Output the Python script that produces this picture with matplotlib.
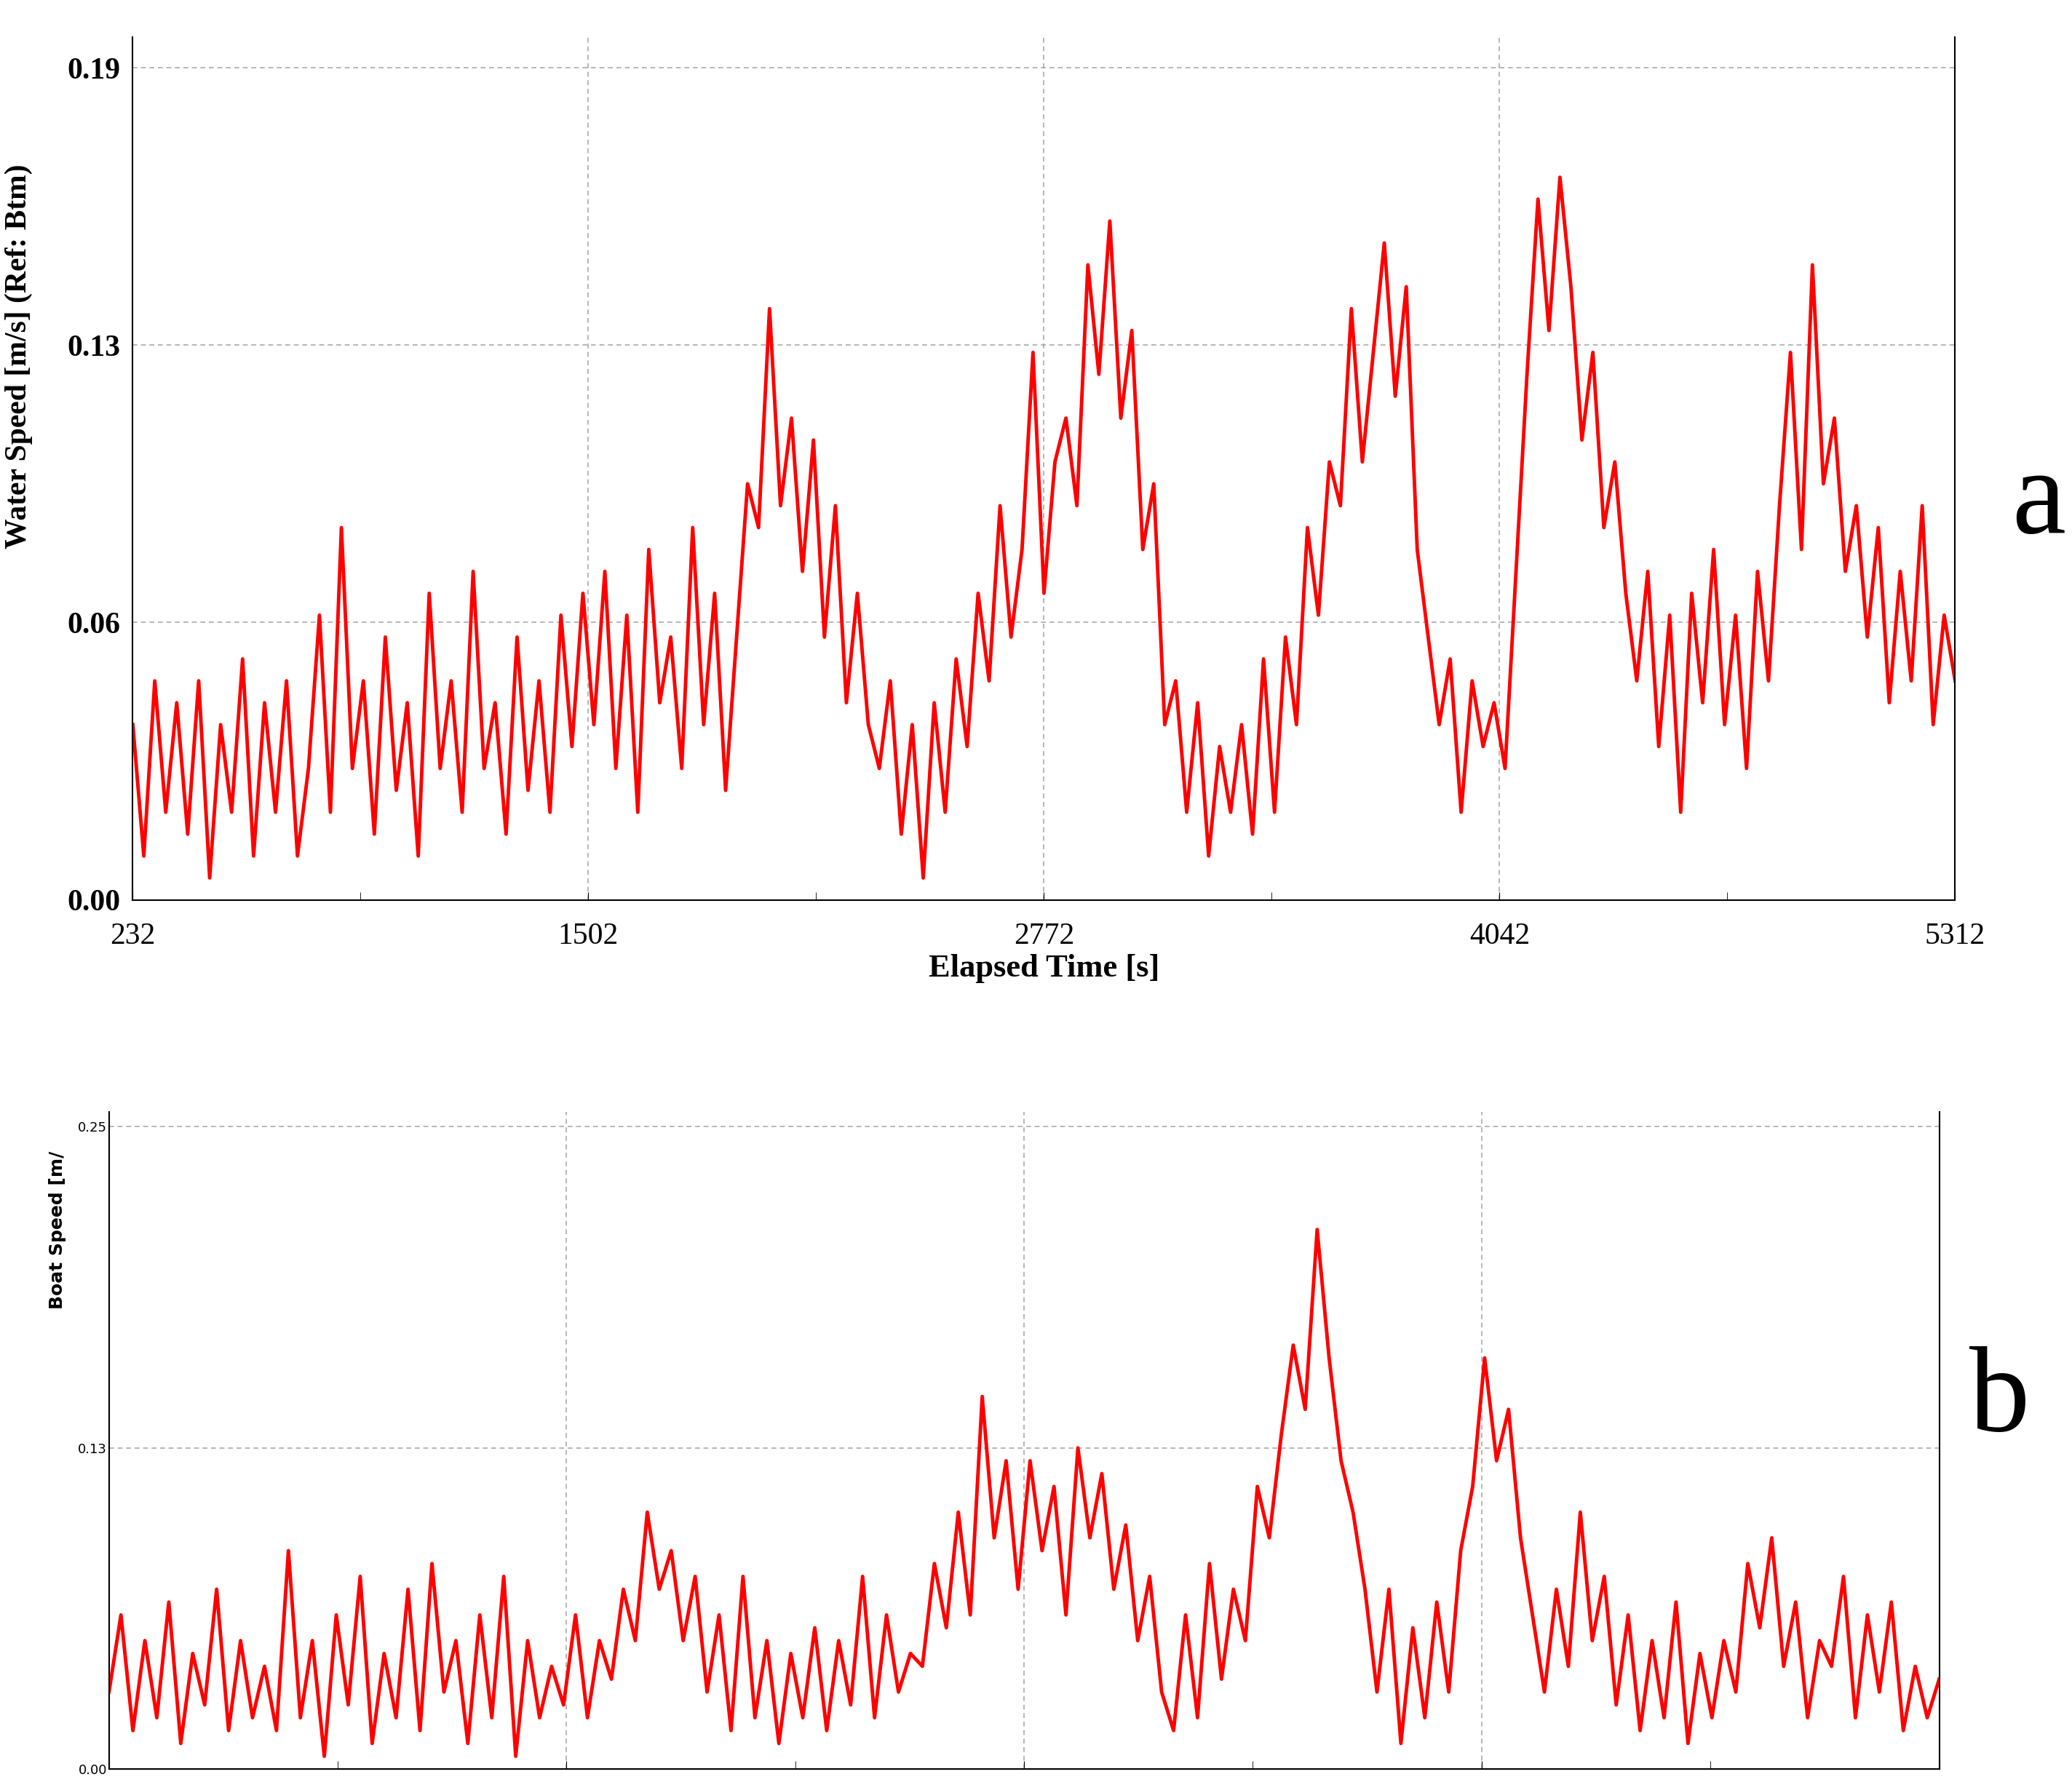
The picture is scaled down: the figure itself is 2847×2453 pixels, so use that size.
import numpy as np
import matplotlib.pyplot as plt

# top panel: water speed (m/s)
water = [0.04,0.01,0.05,0.02,0.045,0.015,0.05,0.005,0.04,0.02,0.055,0.01,0.045,0.02,0.05,0.01,
         0.03,0.065,0.02,0.085,0.03,0.05,0.015,0.06,0.025,0.045,0.01,0.07,0.03,
         0.05,0.02,0.075,0.03,0.045,0.015,0.06,0.025,0.05,0.02,0.065,0.035,0.07,
         0.04,0.075,0.03,0.065,0.02,0.08,0.045,0.06,0.03,0.085,0.04,0.07,0.025,
         0.06,0.095,0.085,0.135,0.09,0.11,0.075,0.105,0.06,0.09,0.045,0.07,0.04,
         0.03,0.05,0.015,0.04,0.005,0.045,0.02,0.055,0.035,0.07,0.05,0.09,0.06,
         0.08,0.125,0.07,0.1,0.11,0.09,0.145,0.12,0.155,0.11,
         0.13,0.08,0.095,0.04,0.05,0.02,0.045,0.01,0.035,0.02,
         0.04,0.015,0.055,0.02,0.06,0.04,0.085,0.065,0.1,0.09,0.135,0.1,0.125,
         0.15,0.115,0.14,0.08,0.06,0.04,0.055,0.02,0.05,0.035,0.045,
         0.03,0.075,0.12,0.16,0.13,0.165,0.14,0.105,0.125,0.085,0.1,0.07,
         0.05,0.075,0.035,0.065,0.02,0.07,0.045,0.08,0.04,0.065,0.03,0.075,0.05,
         0.09,0.125,0.08,0.145,0.095,0.11,0.075,
         0.09,0.06,0.085,0.045,0.075,0.05,0.09,0.04,0.065,0.05]

# bottom panel: boat speed (m/s)
boat = [0.03,0.06,0.015,0.05,0.02,0.065,0.01,0.045,0.025,0.07,0.015,0.05,0.02,0.04,
        0.015,0.085,0.02,0.05,0.005,0.06,0.025,0.075,0.01,0.045,0.02,0.07,0.015,0.08,0.03,0.05,0.01,0.06,0.02,0.075,0.005,0.05,0.02,0.04,
        0.025,0.06,0.02,0.05,0.035,0.07,0.05,0.1,0.07,0.085,0.05,0.075,
        0.03,0.06,0.015,0.075,0.02,0.05,0.01,0.045,0.02,0.055,0.015,0.05,0.025,0.075,0.02,0.06,0.03,0.045,
        0.04,0.08,0.055,0.1,0.06,0.145,0.09,0.12,0.07,
        0.12,0.085,0.11,0.06,0.125,0.09,0.115,0.07,0.095,0.05,0.075,0.03,
        0.015,0.06,0.02,0.08,0.035,0.07,0.05,0.11,0.09,
        0.13,0.165,0.14,0.21,0.16,0.12,0.1,0.07,
        0.03,0.07,0.01,0.055,0.02,0.065,0.03,0.085,
        0.11,0.16,0.12,0.14,0.09,0.06,
        0.03,0.07,0.04,0.1,0.05,0.075,0.025,0.06,0.015,0.05,0.02,0.065,0.01,0.045,0.02,
        0.05,0.03,0.08,0.055,0.09,0.04,0.065,0.02,0.05,
        0.04,0.075,0.02,0.06,0.03,0.065,0.015,0.04,0.02,0.035]

t_start, t_end = 232, 5312
xticks = [232, 1502, 2772, 4042, 5312]
top_yticks = [0, 0.19/3, 0.38/3, 0.19]
top_ylabels = ["0.00", "0.06", "0.13", "0.19"]
bot_yticks = [0, 0.125, 0.25]
bot_ylabels = ["0.00", "0.13", "0.25"]

fig = plt.figure(figsize=(28.47, 24.53), dpi=100)
serif = "Liberation Serif"

def style(ax):
    ax.spines["top"].set_visible(False)
    for s in ["left", "right", "bottom"]:
        ax.spines[s].set_linewidth(1.5)
    ax.grid(True, axis="both", linestyle=(0, (4, 3)), color="#aaaaaa", linewidth=1.2)
    ax.set_xlim(t_start, t_end)
    ax.set_xticks(xticks)
    ax.set_xticks([(a + b) / 2 for a, b in zip(xticks[:-1], xticks[1:])], minor=True)
    ax.tick_params(which="both", direction="in", length=8)

# top
ax1 = fig.add_axes([0.0641, 0.4959, 0.8795, 0.4833])
tw = np.linspace(t_start, t_end, len(water))
ax1.plot(tw, water, color="#ff0000", linewidth=3.5)
style(ax1)
ax1.set_ylim(0, 0.197)
ax1.set_yticks(top_yticks)
ax1.set_yticklabels(top_ylabels, fontfamily=serif, fontweight="bold", fontsize=30)
ax1.set_xticklabels([str(v) for v in xticks], fontfamily=serif, fontsize=30)
ax1.tick_params(axis="x", pad=22)
ax1.tick_params(axis="y", length=0, pad=12)
ax1.set_xlabel("Elapsed Time [s]", fontfamily=serif, fontweight="bold", fontsize=32, labelpad=4)
ax1.set_ylabel("Water Speed [m/s] (Ref: Btm)", fontfamily=serif, fontweight="bold", fontsize=30)
ax1.yaxis.set_label_coords(-0.055, 0.63)
fig.text(0.984, 0.718, "a", fontfamily=serif, fontsize=120, ha="center", va="center")

# bottom
ax2 = fig.add_axes([0.0526, 0.0089, 0.8833, 0.3681])
tb = np.linspace(t_start, t_end, len(boat))
ax2.plot(tb, boat, color="#ff0000", linewidth=3.5)
style(ax2)
ax2.set_ylim(0, 0.2557)
ax2.set_yticks(bot_yticks)
ax2.set_yticklabels(bot_ylabels, fontsize=13)
ax2.set_xticklabels([])
ax2.tick_params(axis="y", length=0, pad=2)
ax2.text(-0.028, 0.70, "Boat Speed [m/", transform=ax2.transAxes, rotation=90,
         fontsize=18, fontweight="bold", ha="center", va="bottom")
fig.text(0.965, 0.215, "b", fontfamily=serif, fontsize=120, ha="center", va="center")

fig.savefig("out.png", dpi=100)
